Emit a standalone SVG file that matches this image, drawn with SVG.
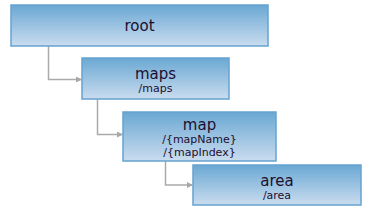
<svg xmlns="http://www.w3.org/2000/svg" width="380" height="212" viewBox="0 0 380 212">
<defs>
<linearGradient id="g" x1="0" y1="0" x2="0" y2="1">
<stop offset="0" stop-color="#6aa8d3"/>
<stop offset="1" stop-color="#cadcef"/>
</linearGradient>
<marker id="arr" markerWidth="6" markerHeight="6" refX="5" refY="3" orient="auto" markerUnits="userSpaceOnUse">
<path d="M0,0 L6,3 L0,6 Z" fill="#a8a8a8"/>
</marker>
</defs>
<style>
.box{fill:url(#g);stroke:#66a3cf;stroke-width:1.5}
.t{font-family:"DejaVu Sans",Verdana,sans-serif;fill:#1e0e2e;text-anchor:middle}
.h{font-size:15px}
.s{font-size:11px}
.c{fill:none;stroke:#aaaaaa;stroke-width:1.5}
</style>
<rect width="380" height="212" fill="#ffffff"/>
<g id="connectors">
<path class="c" d="M48.5,46 V79.5 H81" marker-end="url(#arr)"/>
<path class="c" d="M97.5,99 V134.5 H122" marker-end="url(#arr)"/>
<path class="c" d="M165.5,161 V185 H192" marker-end="url(#arr)"/>
</g>
<g id="root">
<rect class="box" x="11" y="5" width="257" height="41"/>
<text class="t h" x="139.5" y="30.5">root</text>
</g>
<g id="maps">
<rect class="box" x="82" y="58" width="147" height="41"/>
<text class="t h" x="155.5" y="78.5">maps</text>
<text class="t s" x="155.5" y="92">/maps</text>
</g>
<g id="map">
<rect class="box" x="123" y="112" width="153" height="49"/>
<text class="t h" x="199.5" y="129.5">map</text>
<text class="t s" x="199.5" y="142.5">/{mapName}</text>
<text class="t s" x="199.5" y="155.5">/{mapIndex}</text>
</g>
<g id="area">
<rect class="box" x="193" y="165" width="168" height="40"/>
<text class="t h" x="277" y="185.5">area</text>
<text class="t s" x="277" y="198.5">/area</text>
</g>
</svg>
